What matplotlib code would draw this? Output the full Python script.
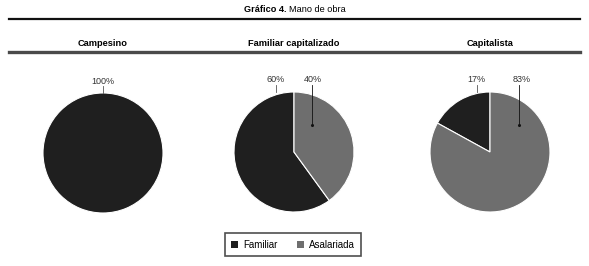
import matplotlib.pyplot as plt
from matplotlib.patches import Patch
from matplotlib.lines import Line2D

plt.rcParams['font.family'] = ['Liberation Sans', 'DejaVu Sans']

# data
categories = ['Familiar', 'Asalariada']
groups = ['Campesino', 'Familiar capitalizado', 'Capitalista']
shares = [
    [100, 0],
    [60, 40],
    [17, 83],
]
colors = ['#1f1f1f', '#6e6e6e']

W, H = 589, 266

# layout (pixels): pie centres, radius and label x offsets (in pie radius units)
centers = [(103, 153), (294, 152), (490, 152)]
radius = 60
label_x = [[0.0, None], [-0.30, 0.32], [-0.22, 0.53]]
# inner leader end for slices whose label sits over the slice itself
leader_end = [[None, None], [None, (0.30, 0.45)], [None, (0.48, 0.45)]]

fig = plt.figure(figsize=(W / 100, H / 100), dpi=100)


def fx(x):
    return x / W


def fy(y):
    return 1 - y / H


# title
fig.text(fx(287), fy(9.5), 'Gráfico 4.', ha='right', va='center', fontsize=6.6, fontweight='bold')
fig.text(fx(289), fy(9.5), 'Mano de obra', ha='left', va='center', fontsize=6.6)
fig.add_artist(Line2D([fx(9), fx(580)], [fy(19), fy(19)], color='#111111', lw=1.6))
fig.add_artist(Line2D([fx(9), fx(580)], [fy(52), fy(52)], color='#4a4a4a', lw=2.4))

for i, (name, vals) in enumerate(zip(groups, shares)):
    cx, cy = centers[i]
    fig.text(fx(cx), fy(43), name, ha='center', va='center', fontsize=6.7, fontweight='bold')
    ax = fig.add_axes([fx(cx - radius), fy(cy + radius), 2 * radius / W, 2 * radius / H])
    vv = [v for v in vals if v > 0]
    cc = [c for v, c in zip(vals, colors) if v > 0]
    ax.pie(vv, colors=cc, startangle=90, counterclock=True, radius=1,
           wedgeprops=dict(edgecolor='white', linewidth=0.8))
    ax.set_xlim(-1, 1)
    ax.set_ylim(-1, 1)
    ax.axis('off')
    for j, v in enumerate(vals):
        if v == 0:
            continue
        lx = label_x[i][j]
        ax.text(lx, 1.2, f'{v}%', ha='center', va='center', fontsize=6.5, color='#333333', clip_on=False)
        end = leader_end[i][j]
        if end is None:
            ax.plot([lx, lx], [1.11, 1.0], color='#555555', lw=0.6, clip_on=False)
        else:
            ax.plot([end[0], end[0]], [1.11, end[1]], color='#111111', lw=0.6, clip_on=False)
            ax.plot(end[0], end[1], 'o', ms=1.2, color='#111111')

handles = [Patch(facecolor=c, edgecolor='none', label=l) for c, l in zip(colors, categories)]
leg = fig.legend(handles=handles, loc='center', bbox_to_anchor=(fx(293), fy(244.5)), ncol=2,
                 fontsize=7, frameon=True, fancybox=False, handlelength=0.7, handleheight=0.7,
                 handletextpad=0.5, columnspacing=2.0, borderpad=0.7, borderaxespad=0)
leg.get_frame().set_edgecolor('#222222')
leg.get_frame().set_linewidth(1.2)

fig.savefig('out.png', dpi=100)
